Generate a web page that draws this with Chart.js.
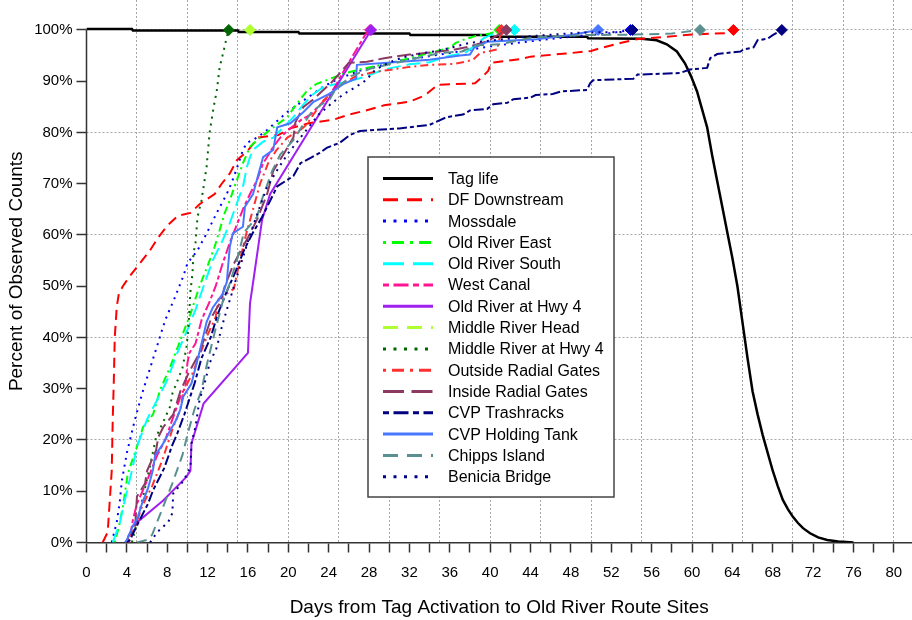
<!DOCTYPE html>
<html>
<head>
<meta charset="utf-8">
<script src="https://cdn.jsdelivr.net/npm/chart.js@4.4.1/dist/chart.umd.min.js"></script>
<style>
  html, body { margin: 0; padding: 0; background: #fff; }
  #wrap { width: 912px; height: 620px; }
</style>
</head>
<body>
<div id="wrap"><canvas id="chart" width="912" height="620"></canvas></div>
<script>
// ---- data (days since tag activation, cumulative percent) ----
const seriesNames = ['Tag life', 'DF Downstream', 'Mossdale', 'Old River East', 'Old River South',
  'West Canal', 'Old River at Hwy 4', 'Middle River Head', 'Middle River at Hwy 4',
  'Outside Radial Gates', 'Inside Radial Gates', 'CVP Trashracks', 'CVP Holding Tank',
  'Chipps Island', 'Benicia Bridge'];

const tagLifeDays = [0, 4.5, 4.6, 15, 15.1, 21, 21.1, 32, 32.1, 40, 40.1, 49.6, 49.7, 55, 56.5, 57.5, 58.5, 59.3, 59.9, 60.5, 61, 61.5, 62, 62.5, 63, 63.5, 64, 64.5, 65, 65.5, 66, 66.5, 67, 67.5, 68, 68.5, 69, 69.5, 70, 70.5, 71, 71.7, 72.5, 73.4, 74.5, 76];
const tagLifePct = [100.2, 100.2, 99.9, 99.9, 99.6, 99.6, 99.3, 99.3, 99, 99, 98.7, 98.7, 98.4, 98.3, 98, 97.2, 95.8, 93.5, 91, 88, 84.5, 81, 75.5, 70.5, 65.5, 60.5, 55.5, 50, 43, 36, 29.5, 25, 21, 17.5, 14, 11, 8.3, 6.5, 5, 3.8, 2.8, 1.8, 1, 0.5, 0.2, 0];

const dfDays = [1.6, 2.1, 2.3, 2.5, 2.6, 2.7, 2.8, 3.0, 3.2, 3.6, 4.3, 5.1, 6.3, 7.1, 8, 9.1, 10.3, 11.2, 12.7, 13.4, 14.2, 14.9, 16, 17, 19, 20.2, 22, 24.5, 26, 27.5, 29.5, 32, 33.5, 34.8, 38.5, 39.3, 39.8, 40.1, 43, 44, 47.5, 50, 51, 53, 54.5, 57, 60, 63.5, 64.1];
const dfPct = [0, 2, 8, 14, 24, 31, 40, 46, 48.5, 50, 52, 54, 57, 59.5, 61.8, 63.8, 64.3, 66, 68, 70, 72, 74.6, 76.5, 79, 79.5, 80.8, 81.8, 82.5, 83.5, 84.2, 85.3, 86, 87.2, 89.3, 89.6, 91, 92, 93.6, 94.3, 94.8, 95.4, 95.9, 96.5, 97.5, 98.2, 98.6, 99.1, 99.4, 100];

const mossdaleDays = [2.5, 3.0, 3.3, 3.5, 4.0, 4.8, 5.5, 6.3, 7.1, 7.8, 8.8, 9.6, 10.0, 11.0, 11.9, 12.9, 13.9, 14.4, 14.9, 15.5, 15.9, 16.9, 17.9, 19.9, 21.7, 23.5, 25, 27, 31, 36, 40, 44, 48, 52, 53.9];
const mossdalePct = [0, 4, 8, 12, 17.5, 24, 29, 34, 39, 43.4, 48, 52, 54.5, 57, 60.3, 64.3, 68, 70.3, 73, 76.6, 78, 79, 80.5, 84, 86.5, 89, 90.5, 92, 94, 95.5, 96.8, 97.8, 98.7, 99.4, 100];

const oreDays = [2.8, 3.2, 3.6, 4.1, 5.0, 5.6, 6.6, 7.3, 8.3, 9.4, 10.3, 11.2, 12.0, 12.7, 13.2, 13.7, 14.2, 14.9, 15.5, 16.2, 16.9, 18.5, 19.5, 19.9, 20.8, 21.8, 22.8, 23.5, 25.5, 27.5, 30, 33, 36, 36.6, 37.5, 38.5, 40, 40.9];
const orePct = [0, 3, 7, 13.5, 18.7, 22.5, 25, 29.8, 34.3, 40, 44.6, 50, 54, 57.7, 61, 64.3, 66.8, 70.7, 74, 77.2, 78.5, 81, 82.4, 83, 85.5, 88, 89.5, 90, 91.5, 92.5, 93.5, 95, 96.5, 97.5, 98.2, 98.8, 99.3, 100];

const orsDays = [2.6, 3.3, 3.8, 4.5, 5.0, 6.0, 7.0, 8.0, 9.0, 10.0, 10.8, 11.6, 12.5, 13.5, 14.2, 14.9, 15.5, 15.9, 16.2, 16.5, 17.5, 18.5, 19.5, 20.5, 21.5, 22.5, 23.5, 26, 27.5, 29.5, 32, 34, 36, 37.5, 38.5, 39.3, 40, 42.4];
const orsPct = [0, 3.8, 8.3, 14, 18.7, 24, 27.8, 31.7, 37, 41.5, 45.4, 50, 55, 59, 62.3, 66.2, 69.4, 73.3, 75.2, 76.6, 78.2, 79, 81, 83, 85.5, 87.5, 88.9, 90, 90.8, 92.3, 93.3, 93.7, 95, 95.5, 97, 98.3, 99, 100];

const westCanalDays = [4.1, 4.3, 4.6, 5.0, 5.6, 6.3, 7.0, 7.8, 8.6, 9.3, 9.8, 10.0, 10.2, 10.8, 11.4, 12.2, 12.8, 13.5, 14.2, 14.8, 15.5, 16.2, 16.9, 17.5, 17.9, 18.5, 19.2, 20, 21.3, 22.2, 23.2, 24, 24.8, 25.2, 25.8, 26.4, 27, 27.6, 28.1];
const westCanalPct = [0, 1, 4.4, 7.6, 10.2, 13.5, 17, 20, 24.5, 28.4, 30.4, 35, 37, 38.8, 43.4, 47, 50, 54.5, 58.5, 61.5, 65, 68, 70.7, 74, 75.2, 77.2, 79, 80.5, 82.5, 83.5, 85.5, 87, 89.5, 91, 93, 95, 97, 99, 100];

const orHwy4Days = [4.5, 7.6, 9.9, 10.3, 10.4, 11.6, 16.0, 16.2, 16.6, 17.4, 18.2, 28.2];
const orHwy4Pct = [3.1, 8.2, 12.8, 14, 19.3, 27.1, 37, 46.6, 52, 63, 68, 100];

const mrHeadDays = [16.2];
const mrHeadPct = [100];

const mrHwy4Days = [4.5, 5.5, 6.3, 6.9, 7.6, 8.3, 8.5, 9.0, 9.5, 9.9, 10.1, 10.2, 10.3, 10.5, 10.6, 10.8, 11.0, 11.4, 11.9, 12.2, 12.6, 12.9, 13.2, 13.6, 13.9, 14.1];
const mrHwy4Pct = [0, 8, 15, 20.6, 23.5, 26.6, 29, 31.5, 34, 38, 42, 45.5, 49, 52.5, 56.5, 58.4, 63.5, 66.8, 73.3, 80, 85, 88, 92.8, 96, 98.6, 100];

const outsideRgDays = [4.2, 4.8, 5.5, 6.5, 7.5, 8.5, 9.3, 9.6, 10.5, 11.5, 12.0, 12.8, 13.1, 14.6, 15.2, 15.8, 16.5, 17.2, 18, 18.8, 19.9, 21.2, 21.8, 22.3, 23.5, 25, 26.5, 28.5, 30, 32, 34, 36.5, 37.5, 38.3, 39, 40.7, 41.1];
const outsideRgPct = [0, 3, 7, 11, 16, 22, 26, 29.5, 33, 38, 40.5, 44, 47.5, 49.5, 55, 60, 65, 70, 74, 76.5, 79, 80.5, 81.5, 83, 86.3, 89, 90.8, 91.8, 92.2, 92.8, 93.2, 93.4, 93.8, 94.2, 95.5, 96.2, 100];

const insideRgDays = [4.0, 4.2, 4.8, 5.0, 5.8, 6.0, 6.9, 7.1, 7.6, 8.6, 9.3, 10.1, 11.2, 11.7, 12.4, 13.3, 13.7, 14.5, 15.3, 16.0, 16.9, 17.9, 18.5, 19.6, 20.5, 20.7, 21.5, 22.5, 24.3, 25.3, 26, 27.8, 29.5, 32, 35, 36.5, 38, 39.7, 40.5, 41.6];
const insideRgPct = [0, 1.5, 2.4, 9, 11.5, 14, 18, 20.5, 22.5, 25, 29.5, 33, 37, 40, 44, 47, 50, 54, 57, 59.5, 63, 68, 72.5, 76, 79, 82, 85, 86.5, 89.8, 92, 93.6, 93.8, 94.5, 95.2, 95.8, 96.2, 96.8, 97.8, 98.7, 100];

const cvpTrashDays = [4.0, 4.3, 5.3, 6.1, 6.6, 7.7, 8.5, 9.0, 9.7, 10.2, 10.7, 11.4, 12.3, 13.0, 13.9, 14.8, 15.6, 16.5, 17.4, 18.9, 20.5, 21.2, 23.1, 23.8, 25.1, 26.1, 27.1, 31, 34, 35.7, 37.3, 38, 39.7, 40.3, 41.7, 42.3, 44, 44.5, 46.2, 47, 49.6, 49.9, 50.2, 54.2, 54.6, 58.8, 59.8, 61.5, 61.8, 62.5, 64.8, 65.1, 66.1, 66.5, 67.5, 68, 68.9];
const cvpTrashPct = [0, 0.5, 4.5, 7.6, 10.2, 14.5, 19, 21.3, 25, 28, 31, 36, 40, 44.5, 49, 53, 57, 60.5, 63.5, 69.5, 71.5, 74, 76, 77, 78, 79.5, 80.3, 80.8, 81.5, 83, 83.5, 84.3, 84.6, 85.5, 85.8, 86.5, 86.8, 87.3, 87.5, 88, 88.3, 89.6, 90.2, 90.5, 91.3, 91.6, 92.3, 92.6, 94.5, 95.3, 95.8, 96.2, 96.6, 98, 98.3, 99, 100];

const cvpTankDays = [3.8, 4.0, 4.5, 5.1, 5.5, 6.1, 6.6, 6.8, 7.5, 8.2, 8.9, 9.3, 9.6, 10.4, 11.3, 11.9, 12.5, 13.5, 13.9, 14.2, 14.5, 15.5, 15.7, 16.5, 17.5, 18.5, 18.9, 20.2, 21.5, 22.5, 24.1, 25.5, 26.7, 26.8, 34, 37, 38, 38.4, 39.7, 44.6, 48, 50.7];
const cvpTankPct = [0, 0.5, 2.8, 5, 7.6, 10.6, 14.3, 17, 19, 21.5, 24, 26, 28.5, 31, 38, 43, 45.8, 48.5, 50.8, 57.7, 60.3, 61.6, 65.5, 68, 75.2, 76.6, 81, 81.8, 84, 86, 87.6, 89.5, 90.5, 93.2, 94.2, 95, 95.2, 96.5, 97.7, 98.2, 99, 100];

const chippsDays = [5.0, 6.0, 6.5, 7.5, 8.5, 9.5, 10.0, 10.7, 11.4, 11.9, 12.7, 13.5, 14.1, 14.9, 15.6, 16.9, 17.3, 18.4, 19.2, 20.5, 21.2, 22.3, 23.3, 24.1, 24.7, 26.2, 28.2, 30.5, 32, 35, 37.2, 38.5, 41, 44, 49, 54, 58, 60.8];
const chippsPct = [0, 0.5, 1.5, 6.5, 11.5, 17, 21, 26, 29.7, 34.5, 41, 47, 50, 55, 60.5, 63.5, 66.5, 72.5, 75.7, 78.5, 80.7, 84, 85.5, 86.5, 88.5, 91, 92.5, 93.5, 94.2, 95.5, 95.8, 97, 97.2, 98.5, 99, 99.1, 99.3, 100];

const beniciaDays = [6.3, 7.0, 8.1, 8.5, 8.6, 9.6, 10.3, 10.4, 10.8, 11.2, 11.7, 12.2, 12.9, 13.4, 13.9, 14.4, 14.7, 15.4, 16.2, 16.9, 17.9, 19, 20, 21, 22, 23, 24.3, 25.5, 26.7, 27.7, 28.6, 29.8, 31.4, 33.4, 35, 38, 44, 49, 53, 54.1];
const beniciaPct = [0, 2, 4, 5.7, 9.6, 12, 14.7, 19.3, 22.6, 27.8, 31, 35, 38, 42, 45.4, 48.6, 50.6, 55, 60, 64, 69.4, 73, 76, 78.5, 81, 83.5, 85.7, 87.5, 88.9, 90.2, 92.2, 93.5, 94.7, 95.5, 96, 97.5, 98.8, 99.5, 99.6, 100];

const seriesDays = [tagLifeDays, dfDays, mossdaleDays, oreDays, orsDays, westCanalDays, orHwy4Days,
  mrHeadDays, mrHwy4Days, outsideRgDays, insideRgDays, cvpTrashDays, cvpTankDays, chippsDays, beniciaDays];
const seriesPct = [tagLifePct, dfPct, mossdalePct, orePct, orsPct, westCanalPct, orHwy4Pct,
  mrHeadPct, mrHwy4Pct, outsideRgPct, insideRgPct, cvpTrashPct, cvpTankPct, chippsPct, beniciaPct];

// axis ticks
const xTickDays = [];
for (let d = 0; d <= 80; d += 2) xTickDays.push(d);
const xGridDays = [5, 10, 15, 20, 25, 30, 35, 40, 45, 50, 55, 60, 65, 70, 75, 80];
const yTickPct = [0, 10, 20, 30, 40, 50, 60, 70, 80, 90, 100];
const yGridPct = [20, 40, 60, 80, 100];

// ---- styles ----
const styles = [
  { color: '#000000', dash: [], width: 2.5, marker: false },
  { color: '#ff0000', dash: [10, 6] },
  { color: '#0000ff', dash: [2, 5] },
  { color: '#00ff00', dash: [2, 4, 8, 4] },
  { color: '#00ffff', dash: [14, 6] },
  { color: '#ff1493', dash: [4, 3, 10, 3] },
  { color: '#a020f0', dash: [] },
  { color: '#adff2f', dash: [10, 6] },
  { color: '#006400', dash: [2, 5] },
  { color: '#ff3030', dash: [2, 4, 8, 4] },
  { color: '#8b3a62', dash: [14, 5] },
  { color: '#000080', dash: [4, 3, 10, 3] },
  { color: '#4876ff', dash: [] },
  { color: '#5b8f8f', dash: [10, 6] },
  { color: '#00008b', dash: [2, 5] }
];

const FONT = "'Liberation Sans', Arial, sans-serif";
Chart.defaults.font.family = FONT;
Chart.defaults.color = '#000';

const xMax = 81.8;
const yMax = 105.85;

const datasets = seriesNames.map((name, i) => {
  const st = styles[i];
  const days = seriesDays[i];
  const pct = seriesPct[i];
  const last = days.length - 1;
  return {
    label: name,
    data: days.map((d, j) => ({ x: d, y: pct[j] })),
    borderColor: st.color,
    backgroundColor: st.color,
    borderWidth: st.width || 2,
    borderDash: st.dash,
    fill: false,
    tension: 0,
    pointStyle: 'rectRot',
    pointRadius: ctx => (st.marker !== false && ctx.dataIndex === last) ? 5.5 : 0,
    pointBackgroundColor: st.color,
    pointBorderColor: st.color,
    pointBorderWidth: 1,
    order: seriesNames.length - i,
    xAxisID: 'x',
    yAxisID: 'y'
  };
});

// no label padding: keep the plot area flush with the canvas top/right
function noPad(s) {
  s.paddingLeft = 0; s.paddingRight = 0; s.paddingTop = 0; s.paddingBottom = 0;
}

// y axis line only across 0..100 plus the boxed legend
const extras = {
  id: 'extras',
  afterDatasetsDraw(chart) {
    const { ctx, scales: { x, y } } = chart;
    ctx.save();
    ctx.strokeStyle = '#333';
    ctx.lineWidth = 1.5;
    ctx.setLineDash([]);
    ctx.beginPath();
    ctx.moveTo(x.getPixelForValue(0), y.getPixelForValue(0));
    ctx.lineTo(x.getPixelForValue(0), y.getPixelForValue(100));
    ctx.stroke();

    // legend
    const left = 368, top = 157, w = 246, h = 340;
    ctx.fillStyle = '#fff';
    ctx.fillRect(left, top, w, h);
    ctx.strokeStyle = '#444';
    ctx.lineWidth = 1.5;
    ctx.strokeRect(left, top, w, h);
    ctx.font = '16px ' + FONT;
    ctx.textBaseline = 'middle';
    ctx.textAlign = 'left';
    seriesNames.forEach((name, i) => {
      const st = styles[i];
      const ry = 178.5 + i * 21.3;
      ctx.strokeStyle = st.color;
      ctx.lineWidth = 3;
      ctx.setLineDash(st.dash.map(v => v * 1.5));
      ctx.beginPath();
      ctx.moveTo(383, ry);
      ctx.lineTo(433, ry);
      ctx.stroke();
      ctx.setLineDash([]);
      ctx.fillStyle = '#000';
      ctx.fillText(name, 448, ry + 1);
    });
    ctx.restore();
  }
};

new Chart(document.getElementById('chart').getContext('2d'), {
  type: 'line',
  data: { datasets },
  options: {
    responsive: false,
    animation: false,
    layout: { padding: 0, autoPadding: false },
    plugins: { legend: { display: false }, tooltip: { enabled: false } },
    scales: {
      x: {
        type: 'linear', position: 'bottom', min: 0, max: xMax,
        afterBuildTicks: s => { s.ticks = xTickDays.map(v => ({ value: v })); },
        afterFit: s => { s.height = 77.5; noPad(s); },
        ticks: {
          autoSkip: false, maxRotation: 0, minRotation: 0, padding: 11,
          font: { size: 15 }, color: '#000',
          callback: v => (v % 4 === 0 ? String(v) : '')
        },
        grid: { drawOnChartArea: false, drawTicks: true, tickLength: 10, tickColor: '#333', tickWidth: 1.5 },
        border: { display: true, color: '#333', width: 1.5 },
        title: { display: true, text: 'Days from Tag Activation to Old River Route Sites', font: { size: 19 }, color: '#000', padding: { top: 0, bottom: 0.6 } }
      },
      y: {
        type: 'linear', position: 'left', min: 0, max: yMax,
        afterBuildTicks: s => { s.ticks = yTickPct.map(v => ({ value: v })); },
        afterFit: s => { s.width = 86.5; noPad(s); },
        ticks: { autoSkip: false, padding: 4, font: { size: 15 }, color: '#000', callback: v => v + '%' },
        grid: { drawOnChartArea: false, drawTicks: true, tickLength: 10, tickColor: '#333', tickWidth: 1.5 },
        border: { display: false },
        title: { display: true, text: 'Percent of Observed Counts', font: { size: 19 }, color: '#000', padding: { top: 5.6, bottom: 0 } }
      },
      xg: {
        type: 'linear', axis: 'x', position: 'top', min: 0, max: xMax,
        afterBuildTicks: s => { s.ticks = xGridDays.map(v => ({ value: v })); },
        afterFit: s => { s.height = 0; noPad(s); },
        ticks: { display: false },
        grid: { drawTicks: false, color: '#a6a6a6', lineWidth: 1 },
        border: { display: false, dash: [2, 2] }
      },
      yg: {
        type: 'linear', axis: 'y', position: 'right', min: 0, max: yMax,
        afterBuildTicks: s => { s.ticks = yGridPct.map(v => ({ value: v })); },
        afterFit: s => { s.width = 0; noPad(s); },
        ticks: { display: false },
        grid: { drawTicks: false, color: '#a6a6a6', lineWidth: 1 },
        border: { display: false, dash: [2, 2] }
      }
    }
  },
  plugins: [extras]
});
</script>
</body>
</html>
